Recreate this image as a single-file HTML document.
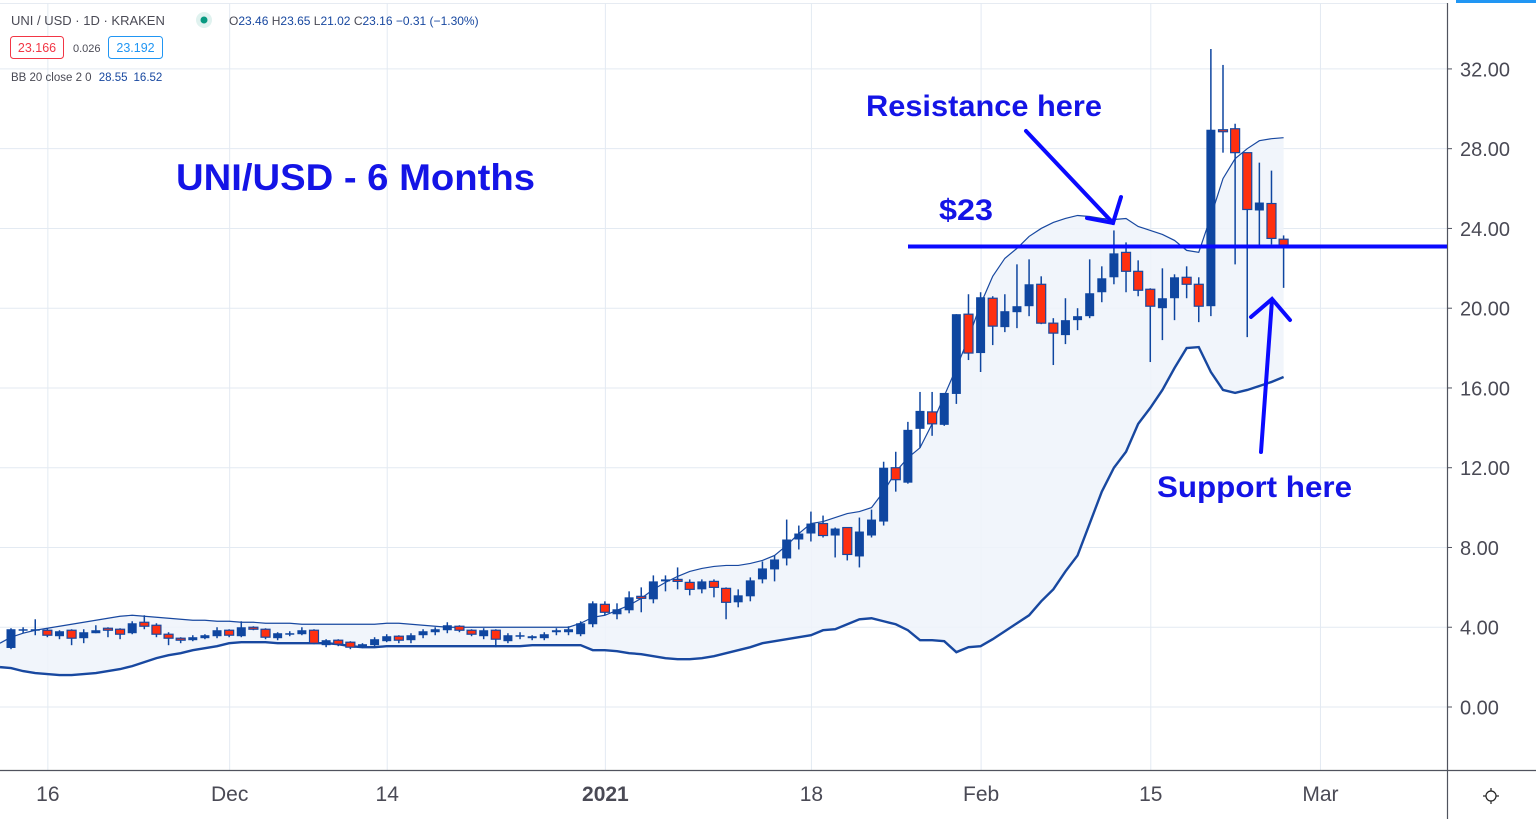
<!DOCTYPE html>
<html><head><meta charset="utf-8"><style>
html,body{margin:0;padding:0;background:#fff;}
body{width:1536px;height:819px;overflow:hidden;position:relative;font-family:"Liberation Sans",sans-serif;}
svg{position:absolute;left:0;top:0;}
</style></head><body>
<svg id="chart" width="1536" height="819" viewBox="0 0 1536 819" xmlns="http://www.w3.org/2000/svg">
<g id="grid"></g>
<g id="band"></g>
<g id="candles"></g>
<g id="axes"></g>
<g id="ann">
  <text x="176" y="190" font-family="Liberation Sans, sans-serif" font-weight="bold" font-size="37" fill="#1414e6" textLength="359" lengthAdjust="spacingAndGlyphs">UNI/USD - 6 Months</text>
  <text x="866" y="116" font-family="Liberation Sans, sans-serif" font-weight="bold" font-size="30" fill="#1414e6" textLength="236" lengthAdjust="spacingAndGlyphs">Resistance here</text>
  <text x="939" y="220" font-family="Liberation Sans, sans-serif" font-weight="bold" font-size="30" fill="#1414e6" textLength="54" lengthAdjust="spacingAndGlyphs">$23</text>
  <text x="1157" y="497" font-family="Liberation Sans, sans-serif" font-weight="bold" font-size="30" fill="#1414e6" textLength="195" lengthAdjust="spacingAndGlyphs">Support here</text>
  <line x1="908" y1="246.5" x2="1447" y2="246.5" stroke="#0a0aff" stroke-width="4"/>
  <g stroke="#0a0aff" stroke-width="4" fill="none" stroke-linecap="round">
    <line x1="1026" y1="131" x2="1113" y2="223"/>
    <polyline points="1087,218 1113,223 1121,197"/>
  </g>
  <g stroke="#0a0aff" stroke-width="4" fill="none" stroke-linecap="round">
    <line x1="1261" y1="452" x2="1272" y2="300"/>
    <polyline points="1251,317 1272,299 1290,320"/>
  </g>
</g>
<g font-family="Liberation Sans, DejaVu Sans, sans-serif">
  <text x="11" y="25" font-size="13" fill="#4a4a55">UNI / USD · 1D · KRAKEN</text>
  <circle cx="204" cy="20" r="8" fill="#e0f2ef"/>
  <circle cx="204" cy="20" r="3.5" fill="#089981"/>
  <text x="229" y="25" font-size="12" fill="#1848a0"><tspan fill="#4a4a55">O</tspan>23.46 <tspan fill="#4a4a55">H</tspan>23.65 <tspan fill="#4a4a55">L</tspan>21.02 <tspan fill="#4a4a55">C</tspan>23.16 −0.31 (−1.30%)</text>
  <rect x="10.5" y="36.5" width="53" height="22" rx="3" fill="#fff" stroke="#f23645"/>
  <text x="37" y="52" font-size="12.5" fill="#f23645" text-anchor="middle">23.166</text>
  <text x="73" y="52" font-size="11" fill="#4a4a55">0.026</text>
  <rect x="108.5" y="36.5" width="54" height="22" rx="3" fill="#fff" stroke="#2196f3"/>
  <text x="135.5" y="52" font-size="12.5" fill="#2196f3" text-anchor="middle">23.192</text>
  <text x="11" y="81" font-size="11.5" fill="#4a4a55">BB 20 close 2 0 <tspan fill="#1848a0" dx="4">28.55</tspan><tspan fill="#1848a0" dx="6">16.52</tspan></text>
</g>
<rect x="1456" y="0" width="80" height="3" fill="#2196f3"/>
</svg>
<script>
const opens  = [2.96,3.85,3.85,3.85,3.55,3.85,3.45,3.7,3.95,3.9,3.7,4.25,4.1,3.65,3.45,3.35,3.45,3.55,3.85,3.55,4.0,3.9,3.45,3.65,3.65,3.85,3.1,3.35,3.25,3.0,3.1,3.3,3.55,3.35,3.6,3.75,3.85,4.05,3.85,3.55,3.85,3.3,3.55,3.45,3.45,3.75,3.75,3.65,4.15,5.15,4.65,4.85,5.55,5.4,6.3,6.4,6.25,5.9,6.3,5.95,5.25,5.55,6.4,6.9,7.45,8.4,8.7,9.2,8.6,9.0,7.55,8.6,9.3,12.0,11.25,13.95,14.8,14.15,15.7,19.7,17.75,20.5,19.05,19.8,20.1,21.2,19.25,18.65,19.4,19.6,20.8,21.55,22.8,21.85,20.95,20.0,20.5,21.55,21.2,20.1,28.95,29.0,27.8,24.9,25.25,23.46];
const highs  = [3.95,4.0,4.4,3.95,3.85,3.9,3.9,4.1,4.0,3.95,4.3,4.6,4.2,3.75,3.5,3.6,3.65,4.0,3.9,4.3,4.05,3.95,3.75,3.8,4.0,3.9,3.4,3.4,3.3,3.2,3.5,3.65,3.6,3.7,3.9,4.0,4.25,4.1,3.9,3.95,3.9,3.7,3.75,3.6,3.75,3.95,4.05,4.3,5.3,5.3,5.2,5.8,6.0,6.6,6.6,7.0,6.4,6.4,6.4,6.0,5.9,6.5,7.3,7.6,9.4,9.1,9.8,9.6,9.0,9.0,9.5,9.9,12.3,12.8,14.3,15.8,15.8,15.75,19.7,20.7,20.8,20.6,20.7,22.2,22.45,21.6,19.5,20.5,20.0,22.45,22.1,23.9,23.3,22.4,21.0,22.0,21.7,22.1,21.55,33.0,32.2,29.25,27.8,27.3,26.9,23.65];
const lows   = [2.9,3.7,3.6,3.5,3.4,3.1,3.2,3.7,3.5,3.4,3.65,3.9,3.5,3.1,3.2,3.3,3.4,3.45,3.5,3.5,3.85,3.4,3.35,3.55,3.6,3.15,3.0,3.05,2.9,2.95,3.05,3.25,3.2,3.2,3.45,3.6,3.7,3.75,3.55,3.4,3.0,3.2,3.4,3.35,3.35,3.6,3.6,3.55,4.0,4.6,4.4,4.7,4.75,5.2,5.8,5.9,5.6,5.7,5.5,4.4,5.0,5.3,6.2,6.3,7.1,7.9,8.3,8.5,7.5,7.35,7.0,8.5,9.1,10.8,11.2,13.0,13.6,14.1,15.2,17.4,16.8,18.15,18.8,19.0,19.6,19.2,17.15,18.2,18.9,19.5,20.3,21.2,20.8,20.6,17.3,18.4,19.4,20.5,19.3,19.6,27.8,22.2,18.55,23.0,23.2,21.02];
const closes = [3.9,3.9,3.9,3.6,3.8,3.45,3.75,3.85,3.85,3.65,4.2,4.05,3.65,3.45,3.35,3.5,3.6,3.85,3.6,4.0,3.9,3.5,3.7,3.7,3.85,3.2,3.35,3.15,3.0,3.15,3.4,3.55,3.35,3.6,3.8,3.9,4.1,3.85,3.65,3.85,3.4,3.6,3.6,3.55,3.65,3.85,3.9,4.2,5.2,4.75,4.9,5.5,5.45,6.3,6.4,6.3,5.9,6.3,6.0,5.25,5.6,6.35,6.95,7.4,8.4,8.7,9.2,8.6,8.95,7.65,8.8,9.4,12.0,11.4,13.9,14.85,14.2,15.75,19.7,17.75,20.55,19.1,19.85,20.1,21.2,19.25,18.75,19.4,19.6,20.75,21.5,22.75,21.85,20.9,20.1,20.5,21.55,21.2,20.1,28.95,28.85,27.8,24.95,25.3,23.5,23.16];
const bbUpper = [3.5,3.7,3.85,3.95,4.05,4.15,4.25,4.35,4.45,4.55,4.6,4.55,4.5,4.45,4.4,4.35,4.35,4.3,4.3,4.25,4.25,4.2,4.2,4.2,4.15,4.15,4.15,4.15,4.15,4.15,4.15,4.2,4.2,4.15,4.1,4.05,4.0,4.0,4.0,4.0,4.0,4.0,4.0,4.0,4.0,4.0,4.0,4.2,4.5,4.6,4.85,5.1,5.45,5.9,6.25,6.55,6.8,6.95,7.05,7.1,7.1,7.2,7.35,7.6,8.1,8.7,9.2,9.3,9.5,9.7,9.8,10.0,10.8,11.8,12.5,13.0,14.2,15.6,17.0,18.5,20.2,21.6,22.5,23.0,23.6,24.0,24.3,24.5,24.65,24.6,24.5,24.45,24.5,24.1,23.9,23.7,23.4,22.9,22.8,24.6,26.5,27.5,28.0,28.4,28.5,28.55];
const bbLower = [1.95,1.8,1.7,1.65,1.6,1.6,1.65,1.7,1.8,1.9,2.05,2.25,2.45,2.6,2.7,2.85,2.95,3.05,3.2,3.25,3.25,3.25,3.2,3.2,3.2,3.2,3.2,3.15,3.05,3.0,3.0,3.05,3.05,3.05,3.05,3.05,3.05,3.05,3.05,3.05,3.05,3.05,3.05,3.1,3.1,3.1,3.1,3.1,2.85,2.85,2.8,2.7,2.65,2.55,2.45,2.4,2.4,2.45,2.55,2.7,2.85,3.0,3.2,3.3,3.4,3.5,3.6,3.85,3.9,4.15,4.4,4.45,4.3,4.15,3.85,3.35,3.35,3.3,2.75,3.0,3.05,3.4,3.8,4.2,4.6,5.3,5.9,6.8,7.6,9.2,10.8,12.0,12.8,14.2,15.0,15.9,17.0,18.0,18.05,16.8,15.9,15.75,15.9,16.1,16.3,16.55];
const yTicks = [0,4,8,12,16,20,24,28,32];
const yTickLabels = ["0.00","4.00","8.00","12.00","16.00","20.00","24.00","28.00","32.00"];
const xTickIdx = [3,18,31,49,66,80,94,108];
const xTickLabels = ["16","Dec","14","2021","18","Feb","15","Mar"];

const NS="http://www.w3.org/2000/svg";
const X0=11, STEP=12.12, PLOT_R=1447, PLOT_B=770;
function xScale(i){return X0+i*STEP;}
function yScale(v){return 707-v*19.94;}
function mk(tag,attrs,parent){const e=document.createElementNS(NS,tag);for(const k in attrs)e.setAttribute(k,attrs[k]);parent.appendChild(e);return e;}

const grid=document.getElementById('grid');
mk('line',{x1:0,y1:3.5,x2:PLOT_R,y2:3.5,stroke:'#e6ebf2','stroke-width':1},grid);
yTicks.forEach(v=>{const l=mk('line',{x1:0,y1:yScale(v),x2:PLOT_R,y2:yScale(v),stroke:'#e3eaf2','stroke-width':1},grid);

});
xTickIdx.forEach(i=>{const l=mk('line',{x1:xScale(i)+0.5,y1:3,x2:xScale(i)+0.5,y2:PLOT_B,stroke:'#e3eaf2','stroke-width':1},grid);

});

const band=document.getElementById('band');
let up=bbUpper.map((v,i)=>xScale(i)+','+yScale(v));
let lo=bbLower.map((v,i)=>xScale(i)+','+yScale(v));
let fillPts=['0,'+yScale(bbUpper[0]+(bbUpper[0]-bbUpper[1])*0.9)].concat(up).concat(lo.slice().reverse()).concat(['0,'+yScale(bbLower[0]+0.05)]);
const f=mk('polygon',{points:fillPts.join(' '),fill:'#eef3fa','fill-opacity':0.85},band);


const ul=mk('polyline',{points:['0,'+yScale(bbUpper[0]-0.3)].concat(up).join(' '),fill:'none',stroke:'#1848a0','stroke-width':1.2},band);


const ll=mk('polyline',{points:['0,'+yScale(bbLower[0]+0.05)].concat(lo).join(' '),fill:'none',stroke:'#1848a0','stroke-width':2.4},band);



const cg=document.getElementById('candles');
opens.forEach((o,i)=>{
  const c=closes[i],x=xScale(i),upc=c>=o;
  const g=mk('g',{},cg);
  
  
  mk('line',{x1:x,y1:yScale(highs[i]),x2:x,y2:yScale(lows[i]),stroke:'#0f46a0','stroke-width':1.5},g);
  const top=yScale(Math.max(o,c)),bot=yScale(Math.min(o,c));
  const h=Math.max(bot-top,1.5);
  mk('rect',{x:x-4.5,y:top,width:9,height:h,fill:upc?'#0f46a0':'#ff2f0f',stroke:'#1848a0','stroke-width':upc?0:1.2},g);
});

const ax=document.getElementById('axes');
mk('rect',{x:PLOT_R,y:3,width:89,height:816,fill:'#fff'},ax);
mk('rect',{x:0,y:PLOT_B,width:1536,height:49,fill:'#fff'},ax);
mk('line',{x1:PLOT_R+0.5,y1:3,x2:PLOT_R+0.5,y2:819,stroke:'#50535e','stroke-width':1.2},ax);
mk('line',{x1:0,y1:PLOT_B+0.5,x2:1536,y2:PLOT_B+0.5,stroke:'#50535e','stroke-width':1.2},ax);
yTicks.forEach((v,k)=>{
  mk('line',{x1:PLOT_R,y1:yScale(v),x2:PLOT_R+5,y2:yScale(v),stroke:'#50535e','stroke-width':1},ax);
  const t=mk('text',{x:1460,y:yScale(v)+7.5,'font-size':20,fill:'#4a4a55','font-family':'Liberation Sans, sans-serif'},ax);
  t.textContent=yTickLabels[k];
  
  
});
xTickIdx.forEach((i,k)=>{
  const t=mk('text',{x:xScale(i)+0.5,y:801,'font-size':21,'text-anchor':'middle',fill:'#4a4a55','font-family':'Liberation Sans, sans-serif','font-weight':xTickLabels[k]==='2021'?'bold':'normal'},ax);
  t.textContent=xTickLabels[k];
  
  
});
const gear=mk('g',{stroke:'#222','stroke-width':1.2,fill:'none'},ax);


mk('circle',{cx:1491,cy:796,r:5},gear);
[[0,-8,0,-5.5],[0,5.5,0,8],[-8,0,-5.5,0],[5.5,0,8,0]].forEach(p=>mk('line',{x1:1491+p[0],y1:796+p[1],x2:1491+p[2],y2:796+p[3]},gear));
</script>
</body></html>
